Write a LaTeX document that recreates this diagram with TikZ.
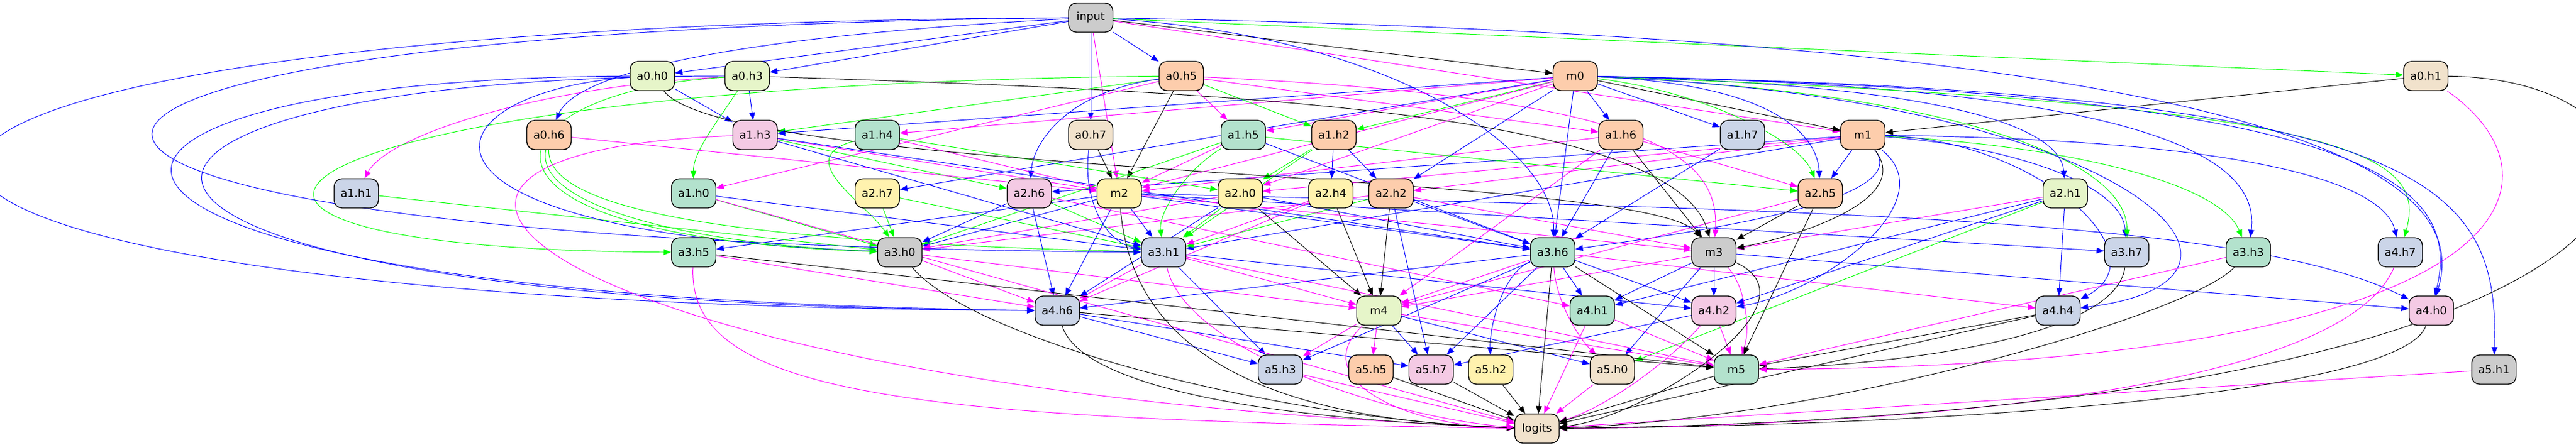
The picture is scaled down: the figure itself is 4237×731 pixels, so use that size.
\documentclass[tikz,border=0pt]{standalone}
\usepackage{fontspec}
\setmainfont{DejaVu Sans}
\usepackage{tikz}
\usetikzlibrary{arrows.meta}
\usetikzlibrary{backgrounds}
\definecolor{pgreen}{HTML}{B3E2CD}
\definecolor{ppeach}{HTML}{FDCDAC}
\definecolor{pblue}{HTML}{CBD5E8}
\definecolor{ppink}{HTML}{F4CAE4}
\definecolor{plime}{HTML}{E6F5C9}
\definecolor{pyellow}{HTML}{FFF2AE}
\definecolor{pbeige}{HTML}{F1E2CC}
\definecolor{pgrey}{HTML}{CCCCCC}
\definecolor{qcol}{HTML}{FF00FF}
\definecolor{kcol}{HTML}{00FF00}
\definecolor{vcol}{HTML}{0000FF}

\begin{document}
\begin{tikzpicture}[x=0.02cm,y=-0.02cm,>={Triangle[length=7pt,width=5.5pt]},
	unit/.style={rectangle,draw=black,line width=0.8pt,rounded corners=0.26cm,minimum width=1.46cm,minimum height=0.96cm,inner sep=0pt,font=\fontsize{10.3}{12}\selectfont},
	tealbox/.style={unit,fill=pgreen},
	peachbox/.style={unit,fill=ppeach},
	bluebox/.style={unit,fill=pblue},
	pinkbox/.style={unit,fill=ppink},
	limebox/.style={unit,fill=plime},
	yellowbox/.style={unit,fill=pyellow},
	beigebox/.style={unit,fill=pbeige},
	greybox/.style={unit,fill=pgrey},
	qarr/.style={->,draw=qcol,line width=0.55pt},
	karr/.style={->,draw=kcol,line width=0.55pt},
	varr/.style={->,draw=vcol,line width=0.55pt},
	oarr/.style={->,draw=black,line width=0.55pt}]
	\node[greybox] (input) at (1794,29) {input};
	\node[limebox] (a0h0) at (1073,125) {a0.h0};
	\node[limebox] (a0h3) at (1229,125) {a0.h3};
	\node[peachbox] (a0h5) at (1943,125) {a0.h5};
	\node[peachbox] (m0) at (2591,125) {m0};
	\node[beigebox] (a0h1) at (3990,125) {a0.h1};
	\node[peachbox] (a0h6) at (903,222) {a0.h6};
	\node[pinkbox] (a1h3) at (1242,222) {a1.h3};
	\node[tealbox] (a1h4) at (1443,222) {a1.h4};
	\node[beigebox] (a0h7) at (1794,222) {a0.h7};
	\node[tealbox] (a1h5) at (2045,222) {a1.h5};
	\node[peachbox] (a1h2) at (2194,222) {a1.h2};
	\node[peachbox] (a1h6) at (2666,222) {a1.h6};
	\node[bluebox] (a1h7) at (2866,222) {a1.h7};
	\node[peachbox] (m1) at (3064,222) {m1};
	\node[bluebox] (a1h1) at (586,318) {a1.h1};
	\node[tealbox] (a1h0) at (1141,318) {a1.h0};
	\node[yellowbox] (a2h7) at (1443,318) {a2.h7};
	\node[pinkbox] (a2h6) at (1693,318) {a2.h6};
	\node[yellowbox] (m2) at (1841,318) {m2};
	\node[yellowbox] (a2h0) at (2040,318) {a2.h0};
	\node[yellowbox] (a2h4) at (2189,318) {a2.h4};
	\node[peachbox] (a2h2) at (2288,318) {a2.h2};
	\node[peachbox] (a2h5) at (2994,318) {a2.h5};
	\node[limebox] (a2h1) at (3397,318) {a2.h1};
	\node[tealbox] (a3h5) at (1141,415) {a3.h5};
	\node[greybox] (a3h0) at (1480,415) {a3.h0};
	\node[bluebox] (a3h1) at (1914,415) {a3.h1};
	\node[tealbox] (a3h6) at (2554,415) {a3.h6};
	\node[greybox] (m3) at (2819,415) {m3};
	\node[bluebox] (a3h7) at (3498,415) {a3.h7};
	\node[tealbox] (a3h3) at (3698,415) {a3.h3};
	\node[bluebox] (a4h7) at (3948,415) {a4.h7};
	\node[bluebox] (a4h6) at (1739,511) {a4.h6};
	\node[limebox] (m4) at (2268,511) {m4};
	\node[tealbox] (a4h1) at (2619,511) {a4.h1};
	\node[pinkbox] (a4h2) at (2819,511) {a4.h2};
	\node[bluebox] (a4h4) at (3385,511) {a4.h4};
	\node[pinkbox] (a4h0) at (3999,511) {a4.h0};
	\node[bluebox] (a5h3) at (2106,608) {a5.h3};
	\node[peachbox] (a5h5) at (2255,608) {a5.h5};
	\node[pinkbox] (a5h7) at (2354,608) {a5.h7};
	\node[yellowbox] (a5h2) at (2452,608) {a5.h2};
	\node[beigebox] (a5h0) at (2652,608) {a5.h0};
	\node[tealbox] (m5) at (2856,608) {m5};
	\node[greybox] (a5h1) at (4102,608) {a5.h1};
	\node[beigebox] (logits) at (2528,705) {logits};

	\begin{scope}[on background layer]
	\path[use as bounding box,fill=white] (0,0) rectangle (4237,731);

	\draw[varr] (input) -- (a0h0);
	\draw[varr] (input) -- (a0h3);
	\draw[varr] (input) -- (a0h5);
	\draw[oarr] (input) -- (m0);
	\draw[karr] (input) -- (a0h1);
	\draw[varr] (input) .. controls (1200,60) and (950,120) .. (a0h6);
	\draw[varr] (input) -- (a0h7);
	\draw[qarr] (input) -- (m1);
	\draw[qarr] (input) -- (m2);

	\draw[varr] (a0h0) -- (a1h3);
	\draw[varr] (a0h3) -- (a1h3);
	\draw[karr] (a0h5) -- (a1h3);
	\draw[varr] (m0) -- (a1h3);
	\draw[qarr] (m0) -- (a1h4);
	\draw[qarr] (a0h5) -- (a1h5);
	\draw[qarr] (m0) -- (a1h5);
	\draw[karr] (a0h5) -- (a1h2);
	\draw[karr] (m0) -- (a1h2);
	\draw[qarr] (a0h5) -- (a1h6);
	\draw[varr] (m0) -- (a1h6);
	\draw[varr] (m0) -- (a1h7);
	\draw[oarr] (m0) -- (m1);
	\draw[oarr] (a0h1) -- (m1);

	\draw[qarr] (a0h3) .. controls (900,140) and (640,220) .. (a1h1);
	\draw[karr] (a0h3) .. controls (1180,200) and (1140,250) .. (a1h0);
	\draw[qarr] (a0h5) -- (a1h0);
	\draw[varr] (m0) -- (a2h7);
	\draw[varr] (a0h5) .. controls (1760,150) and (1700,230) .. (a2h6);
	\draw[karr] (a1h3) -- (a2h6);
	\draw[varr] (m1) -- (a2h6);
	\draw[oarr] (a0h7) -- (m2);
	\draw[oarr] (a0h5) -- (m2);
	\draw[qarr] (a1h5) -- (m2);
	\draw[qarr] (m0) -- (m2);
	\draw[qarr] (a1h6) -- (m2);
	\draw[qarr] (a0h6) -- (m2);
	\draw[qarr] (a1h3) -- (m2);
	\draw[qarr] (a1h4) -- (m2);
	\draw[qarr] (m0) -- (a2h0);
	\draw[karr] (a1h2) -- (a2h0);
	\draw[qarr] (m1) -- (a2h0);
	\draw[karr] (a1h4) -- (a2h0);
	\draw[varr] (a1h2) -- (a2h4);
	\draw[varr] (a1h2) -- (a2h2);
	\draw[varr] (m0) -- (a2h2);
	\draw[qarr] (m1) -- (a2h2);
	\draw[karr] (m0) .. controls (2800,150) and (2960,230) .. (a2h5);
	\draw[varr] (m0) .. controls (2950,140) and (2990,240) .. (a2h5);
	\draw[varr] (m1) -- (a2h5);
	\draw[qarr] (a1h6) -- (a2h5);
	\draw[karr] (a1h5) -- (a2h5);
	\draw[varr] (m0) .. controls (3250,140) and (3390,220) .. (a2h1);

	\draw[karr] (a0h5) .. controls (400,140) and (100,410) .. (a3h5);
	\draw[varr] (m2) -- (a3h5);
	\draw[karr] (a2h7) -- (a3h0);
	\draw[karr] (a1h5) -- (a3h0);
	\draw[karr] (a1h4) .. controls (1300,260) and (1420,330) .. (a3h0);
	\draw[varr] (a2h6) -- (a3h0);
	\draw[varr] (m2) -- (a3h0);
	\draw[qarr] (a2h0) -- (a3h0);
	\draw[qarr] (a2h2) -- (a3h0);
	\draw[karr] (a1h0) -- (a3h0);
	\draw[karr] (a1h1) -- (a3h0);
	\draw[karr] (a0h6) .. controls (880,330) and (1100,400) .. (a3h0);
	\draw[varr] (a0h0) .. controls (700,150) and (600,380) .. (a3h0);
	\draw[karr] (a0h3) .. controls (800,150) and (700,390) .. (a3h0);
	\draw[varr] (m2) -- (a3h1);
	\draw[karr] (a1h5) .. controls (1950,280) and (1905,350) .. (a3h1);
	\draw[karr] (a1h2) -- (a3h1);
	\draw[karr] (a2h0) -- (a3h1);
	\draw[varr] (m1) -- (a3h1);
	\draw[karr] (a2h2) -- (a3h1);
	\draw[qarr] (a2h4) -- (a3h1);
	\draw[karr] (a2h6) -- (a3h1);
	\draw[karr] (a2h7) -- (a3h1);
	\draw[varr] (a1h0) -- (a3h1);
	\draw[varr] (a0h7) .. controls (1780,330) and (1820,400) .. (a3h1);
	\draw[varr] (a1h3) -- (a3h1);
	\draw[karr] (a0h6) .. controls (900,360) and (1300,400) .. (a3h1);
	\draw[varr] (input) .. controls (-270,50) and (-270,400) .. (a3h1);
	\draw[varr] (a1h3) -- (a3h6);
	\draw[varr] (a1h5) -- (a3h6);
	\draw[varr] (m0) -- (a3h6);
	\draw[varr] (input) .. controls (2300,60) and (2560,250) .. (a3h6);
	\draw[varr] (a1h6) -- (a3h6);
	\draw[varr] (a1h7) -- (a3h6);
	\draw[varr] (a2h2) -- (a3h6);
	\draw[varr] (a2h0) -- (a3h6);
	\draw[varr] (m2) -- (a3h6);
	\draw[varr] (m1) .. controls (3150,330) and (2800,380) .. (a3h6);
	\draw[oarr] (a1h6) -- (m3);
	\draw[oarr] (a0h3) .. controls (2000,150) and (2750,180) .. (m3);
	\draw[oarr] (a0h0) .. controls (1200,290) and (2700,280) .. (m3);
	\draw[qarr] (a0h5) .. controls (2700,160) and (2830,250) .. (m3);
	\draw[qarr] (a2h2) -- (m3);
	\draw[qarr] (m2) -- (m3);
	\draw[oarr] (a2h5) -- (m3);
	\draw[qarr] (a2h1) -- (m3);
	\draw[oarr] (m1) .. controls (3150,330) and (2950,390) .. (m3);
	\draw[varr] (m1) .. controls (3300,240) and (3490,300) .. (a3h7);
	\draw[karr] (m0) .. controls (3200,150) and (3500,260) .. (a3h7);
	\draw[varr] (m2) -- (a3h7);
	\draw[karr] (m1) .. controls (3400,240) and (3650,300) .. (a3h3);
	\draw[varr] (m0) .. controls (3500,140) and (3720,250) .. (a3h3);
	\draw[varr] (m1) .. controls (3700,230) and (3920,300) .. (a4h7);
	\draw[karr] (m0) .. controls (3900,170) and (3990,260) .. (a4h7);

	\draw[varr] (a2h6) -- (a4h6);
	\draw[varr] (m2) -- (a4h6);
	\draw[qarr] (a3h1) -- (a4h6);
	\draw[qarr] (a3h0) -- (a4h6);
	\draw[qarr] (a3h5) -- (a4h6);
	\draw[varr] (input) .. controls (-620,40) and (-620,500) .. (a4h6);
	\draw[varr] (a0h0) .. controls (-60,130) and (-60,490) .. (a4h6);
	\draw[varr] (a0h3) .. controls (0,125) and (-60,500) .. (a4h6);
	\draw[qarr] (a2h4) -- (a4h6);
	\draw[varr] (a2h0) -- (a4h6);
	\draw[varr] (a3h6) -- (a4h6);
	\draw[oarr] (a2h0) -- (m4);
	\draw[oarr] (a2h4) -- (m4);
	\draw[oarr] (a2h2) -- (m4);
	\draw[qarr] (a1h6) -- (m4);
	\draw[qarr] (a3h0) -- (m4);
	\draw[qarr] (a3h1) -- (m4);
	\draw[qarr] (a3h6) -- (m4);
	\draw[qarr] (m3) -- (m4);
	\draw[qarr] (a2h5) -- (m4);
	\draw[varr] (a3h6) -- (a4h1);
	\draw[varr] (m3) -- (a4h1);
	\draw[varr] (a2h1) -- (a4h1);
	\draw[qarr] (a2h6) -- (a4h1);
	\draw[varr] (m3) -- (a4h2);
	\draw[varr] (a3h6) -- (a4h2);
	\draw[varr] (a3h1) -- (a4h2);
	\draw[varr] (m1) .. controls (3200,330) and (3000,480) .. (a4h2);
	\draw[varr] (a2h1) -- (a4h2);
	\draw[varr] (a2h1) -- (a4h4);
	\draw[qarr] (a3h6) -- (a4h4);
	\draw[varr] (m1) .. controls (3350,230) and (3560,420) .. (a4h4);
	\draw[varr] (m0) .. controls (3500,160) and (3800,460) .. (a4h4);
	\draw[varr] (m2) .. controls (3000,345) and (3700,360) .. (a4h0);
	\draw[varr] (m0) .. controls (3900,150) and (4050,300) .. (a4h0);
	\draw[varr] (input) .. controls (3600,60) and (4080,250) .. (a4h0);
	\draw[varr] (m3) -- (a4h0);

	\draw[varr] (a3h1) -- (a5h3);
	\draw[varr] (a3h6) -- (a5h3);
	\draw[varr] (a4h6) -- (a5h3);
	\draw[qarr] (m4) -- (a5h3);
	\draw[qarr] (m4) -- (a5h5);
	\draw[varr] (m4) -- (a5h7);
	\draw[varr] (a2h2) -- (a5h7);
	\draw[varr] (a3h6) -- (a5h7);
	\draw[varr] (a4h6) -- (a5h7);
	\draw[varr] (a4h2) -- (a5h7);
	\draw[varr] (a3h6) .. controls (2470,450) and (2450,540) .. (a5h2);
	\draw[qarr] (a3h6) .. controls (2560,500) and (2600,560) .. (a5h0);
	\draw[varr] (m4) -- (a5h0);
	\draw[varr] (m3) -- (a5h0);
	\draw[karr] (a2h1) -- (a5h0);
	\draw[oarr] (a3h6) -- (m5);
	\draw[qarr] (a4h2) -- (m5);
	\draw[qarr] (m3) .. controls (2870,470) and (2880,540) .. (m5);
	\draw[qarr] (a3h1) -- (m5);
	\draw[oarr] (a2h5) -- (m5);
	\draw[qarr] (a4h1) -- (m5);
	\draw[qarr] (m4) -- (m5);
	\draw[oarr] (a4h6) -- (m5);
	\draw[oarr] (a4h4) -- (m5);
	\draw[qarr] (a3h3) -- (m5);
	\draw[oarr] (a3h7) .. controls (3480,560) and (3100,600) .. (m5);
	\draw[oarr] (a3h5) -- (m5);
	\draw[qarr] (a0h1) .. controls (4240,300) and (4150,600) .. (m5);
	\draw[varr] (m0) .. controls (4000,150) and (4110,300) .. (a5h1);

	\draw[oarr] (a5h5) -- (logits);
	\draw[oarr] (a5h7) -- (logits);
	\draw[oarr] (a5h2) -- (logits);
	\draw[oarr] (a3h6) -- (logits);
	\draw[qarr] (a4h1) -- (logits);
	\draw[qarr] (a5h0) -- (logits);
	\draw[qarr] (a4h2) .. controls (2740,600) and (2640,670) .. (logits);
	\draw[oarr] (m5) -- (logits);
	\draw[qarr] (a5h3) -- (logits);
	\draw[qarr] (m4) .. controls (2150,620) and (2300,700) .. (logits);
	\draw[qarr] (a3h5) .. controls (1130,650) and (1500,690) .. (logits);
	\draw[qarr] (a1h0) -- (logits);
	\draw[qarr] (a1h3) .. controls (450,250) and (900,640) .. (logits);
	\draw[oarr] (a4h6) .. controls (1780,640) and (2100,690) .. (logits);
	\draw[oarr] (a3h0) .. controls (1600,560) and (2100,690) .. (logits);
	\draw[oarr] (m2) .. controls (1860,560) and (2050,690) .. (logits);
	\draw[qarr] (a3h1) .. controls (1950,580) and (2300,690) .. (logits);
	\draw[qarr] (a5h1) -- (logits);
	\draw[oarr] (a4h0) .. controls (3950,650) and (3200,700) .. (logits);
	\draw[qarr] (a4h7) .. controls (3850,650) and (3100,700) .. (logits);
	\draw[oarr] (a4h4) -- (logits);
	\draw[oarr] (a3h3) .. controls (3600,520) and (3000,690) .. (logits);
	\draw[oarr] (a0h1) .. controls (4500,130) and (4550,680) .. (logits);
	\draw[oarr] (m3) .. controls (3000,500) and (2700,690) .. (logits);
	\end{scope}
\end{tikzpicture}
\end{document}
